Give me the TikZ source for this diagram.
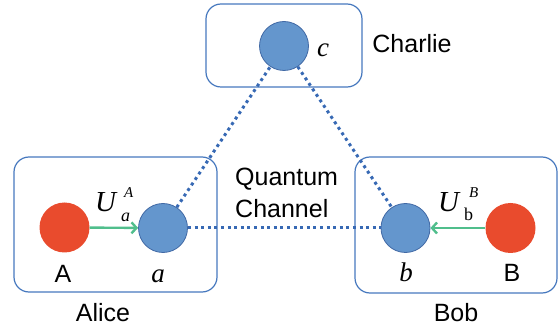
\documentclass[tikz,border=0pt]{standalone}
\usepackage{fontspec}
\setmainfont{Liberation Sans}
\newfontfamily\tnr{Liberation Serif}
\usetikzlibrary{arrows.meta}
\definecolor{boxblue}{RGB}{70,120,190}
\definecolor{qfill}{RGB}{100,150,205}
\definecolor{qdraw}{RGB}{65,105,165}
\definecolor{cred}{RGB}{233,75,45}
\definecolor{cgreen}{RGB}{80,190,140}
\definecolor{dotblue}{RGB}{55,105,180}
\begin{document}
\begin{tikzpicture}[x=1pt,y=-1pt,
  party/.style={draw=boxblue,line width=1.2pt,rounded corners=15pt,inner sep=0pt},
  qubit/.style={circle,fill=qfill,draw=qdraw,line width=0.8pt,minimum size=49pt,inner sep=0pt},
  srcq/.style={circle,fill=cred,minimum size=50pt,inner sep=0pt},
  chan/.style={dotblue,line width=3pt,dash pattern=on 3pt off 3.6pt},
  op/.style={cgreen,line width=2.4pt,-{Straight Barb[length=5pt,width=11pt,line width=2.4pt]}},
  sans/.style={font=\fontsize{25}{25}\selectfont,inner sep=0pt,anchor=base},
  ital/.style={font=\tnr\fontsize{27}{27}\selectfont\itshape,inner sep=0pt,anchor=base},
  opU/.style={font=\tnr\fontsize{29}{29}\selectfont\itshape,inner sep=0pt,anchor=base west},
  opsup/.style={font=\tnr\fontsize{15}{15}\selectfont\itshape,inner sep=0pt,anchor=base west},
  opsub/.style={font=\tnr\fontsize{18}{18}\selectfont,inner sep=0pt,anchor=base west}]
\useasboundingbox (0,0) rectangle (560,331);
% party boxes
\node[party,minimum width=203pt,minimum height=135pt] (alicebox) at (115.5,224.5) {};
\node[party,minimum width=202pt,minimum height=136pt] (bobbox) at (456,225) {};
\node[party,minimum width=156pt,minimum height=83pt] (charliebox) at (284,45.5) {};
% qubits
\node[srcq] (A) at (64.5,227.5) {};
\node[qubit] (a) at (163,228) {};
\node[qubit] (b) at (405.5,228) {};
\node[srcq] (B) at (510.5,228) {};
\node[qubit] (c) at (284,46) {};
% quantum channel
\draw[chan] (a) -- (c);
\draw[chan] (c) -- (b);
\draw[chan] (a) -- (b);
% local operations
\draw[op] (A) -- (a);
\draw[op] (B) -- (b);
\node[opU] (ua) at (95,212) {U};
\node[opsup] (uasup) at (124,198) {A};
\node[opsub,font=\tnr\fontsize{18}{18}\selectfont\itshape] (uasub) at (121,222) {a};
\node[opU] (ub) at (438,212) {U};
\node[opsup] (ubsup) at (469,198) {B};
\node[opsub] (ubsub) at (464,221) {b};
% labels
\node[sans] (lA) at (63,283) {A};
\node[ital] (la) at (158,283) {a};
\node[ital] (lb) at (406,282) {b};
\node[sans] (lB) at (512,282) {B};
\node[ital] (lc) at (323,57) {c};
\node[sans] (alice) at (103,322) {Alice};
\node[sans] (bob) at (456,322) {Bob};
\node[sans] (charlie) at (412,53) {Charlie};
\node[sans,anchor=base west] (q1) at (235,186) {Quantum};
\node[sans,anchor=base west] (q2) at (235,218) {Channel};
\end{tikzpicture}
\end{document}
